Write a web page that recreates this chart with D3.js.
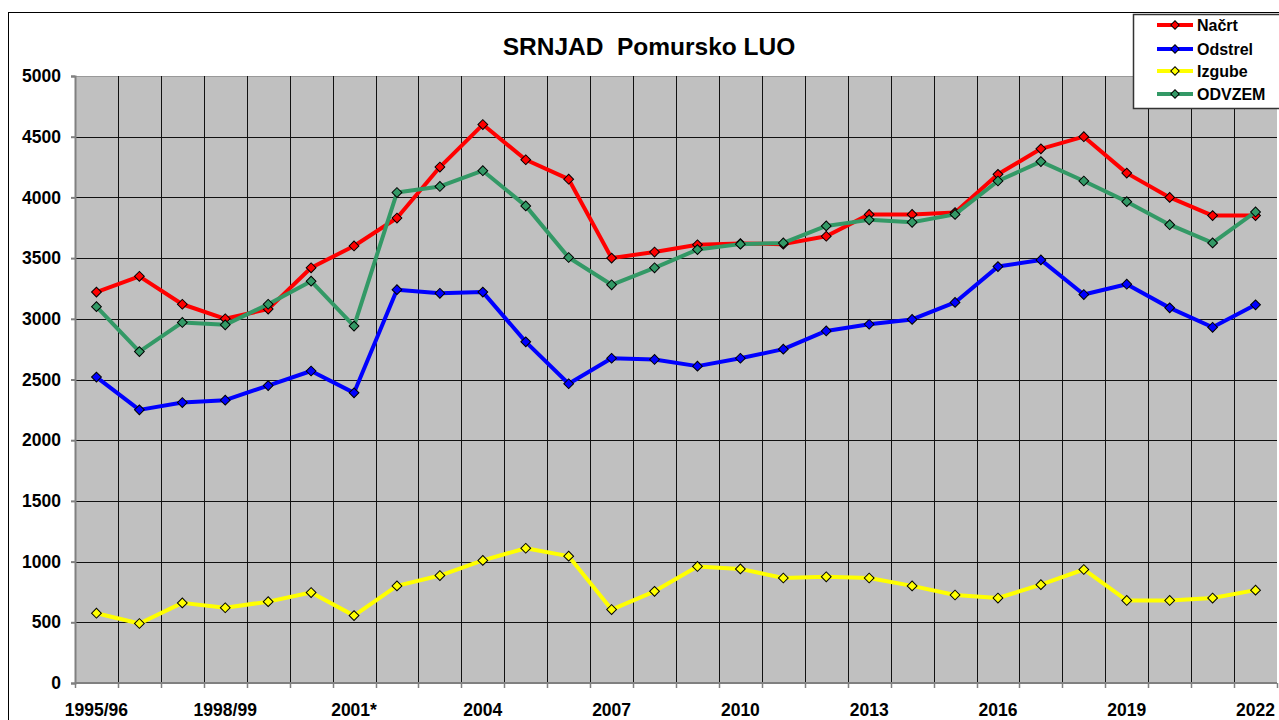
<!DOCTYPE html>
<html>
<head>
<meta charset="utf-8">
<script src="https://cdn.jsdelivr.net/npm/d3@7"></script>
<style>
  body { margin: 0; background: #fff; }
  svg { display: block; font-family: "Liberation Sans", Arial, sans-serif; }
</style>
</head>
<body>
<svg class="chart"></svg>
<script>
// season labels, one per point
var seasons = ["1995/96", "1996/97", "1997/98", "1998/99", "1999/00", "2000/01", "2001*",
  "2002", "2003", "2004", "2005", "2006", "2007", "2008", "2009", "2010", "2011", "2012",
  "2013", "2014", "2015", "2016", "2017", "2018", "2019", "2020", "2021", "2022"];

// only every third label is printed
var shownLabels = ["1995/96", "1998/99", "2001*", "2004", "2007", "2010", "2013", "2016", "2019", "2022"];

var yTicks = [0, 500, 1000, 1500, 2000, 2500, 3000, 3500, 4000, 4500, 5000];

var nacrt = [3220, 3350, 3120, 3000, 3080, 3420, 3600, 3830, 4250, 4600, 4310, 4150, 3500, 3550,
  3610, 3620, 3615, 3680, 3860, 3860, 3875, 4190, 4400, 4500, 4200, 4000, 3850, 3850];
var odstrel = [2520, 2250, 2310, 2330, 2450, 2570, 2390, 3240, 3210, 3220, 2810, 2465, 2675, 2665,
  2610, 2675, 2750, 2900, 2955, 2995, 3135, 3430, 3485, 3200, 3285, 3090, 2930, 3115];
var izgube = [575, 490, 660, 620, 670, 745, 555, 800, 885, 1010, 1110, 1045, 605, 755,
  960, 940, 865, 875, 865, 800, 725, 700, 810, 935, 680, 680, 700, 765];
var odvzem = [3100, 2730, 2970, 2950, 3120, 3310, 2940, 4040, 4090, 4220, 3930, 3505, 3280, 3420,
  3570, 3615, 3625, 3765, 3815, 3795, 3860, 4135, 4295, 4135, 3965, 3775, 3625, 3880];

var seriesNames = ["Načrt", "Odstrel", "Izgube", "ODVZEM"];
var seriesColors = ["#ff0000", "#0000ff", "#ffff00", "#339966"];
var seriesValues = [nacrt, odstrel, izgube, odvzem];

var width = 1279, height = 720;
var plot = {left: 75, top: 76, right: 1277, bottom: 683};

var svg = d3.select(".chart")
  .attr("width", width)
  .attr("height", height);

// outer chart frame
svg.append("rect")
  .attr("x", 8.5).attr("y", 12.5)
  .attr("width", 1300).attr("height", 800)
  .attr("fill", "#fff")
  .attr("stroke", "#000")
  .attr("stroke-width", 1);

var x = d3.scaleBand()
  .domain(seasons)
  .range([plot.left, plot.right]);

var y = d3.scaleLinear()
  .domain([0, 5000])
  .range([plot.bottom, plot.top]);

// plot background
svg.append("rect")
  .attr("x", plot.left).attr("y", plot.top)
  .attr("width", plot.right - plot.left)
  .attr("height", plot.bottom - plot.top)
  .attr("fill", "#c0c0c0");

// horizontal gridlines
svg.append("g")
  .selectAll("line")
  .data(yTicks.slice(1))
  .enter()
  .append("line")
  .attr("x1", plot.left).attr("x2", plot.right)
  .attr("y1", function(d) { return Math.round(y(d)) + 0.5; })
  .attr("y2", function(d) { return Math.round(y(d)) + 0.5; })
  .attr("stroke", function(d) { return d === 5000 ? "#999" : "#111"; })
  .attr("stroke-width", 1);

// vertical gridlines at category boundaries
svg.append("g")
  .selectAll("line")
  .data(seasons.slice(1))
  .enter()
  .append("line")
  .attr("x1", function(d) { return Math.round(x(d)) + 0.5; })
  .attr("x2", function(d) { return Math.round(x(d)) + 0.5; })
  .attr("y1", plot.top).attr("y2", plot.bottom)
  .attr("stroke", "#111")
  .attr("stroke-width", 1);

// y axis
var yAxis = svg.append("g")
  .attr("transform", "translate(" + plot.left + ",0)")
  .call(d3.axisLeft(y).tickValues(yTicks).tickFormat(d3.format("d")).tickSize(4).tickPadding(10));
yAxis.select(".domain").attr("stroke", "#808080").attr("stroke-width", 2);
yAxis.selectAll(".tick line").attr("stroke", "#808080").attr("stroke-width", 2);
yAxis.selectAll("text")
  .attr("font-size", "17.5px")
  .attr("font-weight", "bold")
  .attr("fill", "#000")
  .attr("font-family", "'Liberation Sans', Arial, sans-serif");

// x axis: ticks on boundaries, labels at band centres
var xAxis = svg.append("g")
  .attr("transform", "translate(0," + plot.bottom + ")");
xAxis.append("line")
  .attr("x1", plot.left).attr("x2", plot.right)
  .attr("y1", 0).attr("y2", 0)
  .attr("stroke", "#808080").attr("stroke-width", 2);
xAxis.selectAll(".xtick")
  .data(seasons.concat(["end"]))
  .enter()
  .append("line")
  .attr("class", "xtick")
  .attr("x1", function(d, i) { return Math.round(plot.left + i * x.step()) + 0.5; })
  .attr("x2", function(d, i) { return Math.round(plot.left + i * x.step()) + 0.5; })
  .attr("y1", 0).attr("y2", 5)
  .attr("stroke", "#808080").attr("stroke-width", 1.5);
xAxis.selectAll("text")
  .data(shownLabels)
  .enter()
  .append("text")
  .attr("x", function(d) { return x(d) + x.bandwidth() / 2; })
  .attr("y", 33)
  .attr("text-anchor", "middle")
  .attr("font-size", "17.5px")
  .attr("font-weight", "bold")
  .text(function(d) { return d; });

// series lines and markers
var line = d3.line()
  .x(function(d, i) { return x(seasons[i]) + x.bandwidth() / 2; })
  .y(function(d) { return y(d); });

// square diamond (rotated square)
var diamond = d3.symbol().type(d3.symbolSquare).size(48);
var smallDiamond = d3.symbol().type(d3.symbolSquare).size(36);

seriesValues.forEach(function(values, s) {
  var g = svg.append("g");
  g.append("path")
    .datum(values)
    .attr("d", line)
    .attr("fill", "none")
    .attr("stroke", seriesColors[s])
    .attr("stroke-width", 4)
    .attr("stroke-linejoin", "round");
  g.selectAll("path.marker")
    .data(values)
    .enter()
    .append("path")
    .attr("class", "marker")
    .attr("d", diamond)
    .attr("transform", function(d, i) {
      return "translate(" + (x(seasons[i]) + x.bandwidth() / 2) + "," + y(d) + ") rotate(45)";
    })
    .attr("fill", seriesColors[s])
    .attr("stroke", "#000")
    .attr("stroke-width", 1);
});

// title
svg.append("text")
  .attr("x", 649).attr("y", 55)
  .attr("text-anchor", "middle")
  .attr("font-size", "24.5px")
  .attr("font-weight", "bold")
  .attr("xml:space", "preserve")
  .text("SRNJAD  Pomursko LUO");

// legend
var legend = svg.append("g");
legend.append("rect")
  .attr("x", 1133.5).attr("y", 14.5)
  .attr("width", 160).attr("height", 94)
  .attr("fill", "#fff")
  .attr("stroke", "#333")
  .attr("stroke-width", 1.5);

var legendRows = legend.selectAll("g.row")
  .data(seriesNames)
  .enter()
  .append("g")
  .attr("class", "row")
  .attr("transform", function(d, i) { return "translate(0," + [25, 49, 71, 94][i] + ")"; });

legendRows.append("line")
  .attr("x1", 1157).attr("x2", 1193)
  .attr("y1", 0).attr("y2", 0)
  .attr("stroke", function(d, i) { return seriesColors[i]; })
  .attr("stroke-width", 4);
legendRows.append("path")
  .attr("d", smallDiamond)
  .attr("transform", "translate(1175,0) rotate(45)")
  .attr("fill", function(d, i) { return seriesColors[i]; })
  .attr("stroke", "#000")
  .attr("stroke-width", 1);
legendRows.append("text")
  .attr("x", 1197).attr("y", 6)
  .attr("font-size", "16px")
  .attr("font-weight", "bold")
  .text(function(d) { return d; });
</script>
</body>
</html>
